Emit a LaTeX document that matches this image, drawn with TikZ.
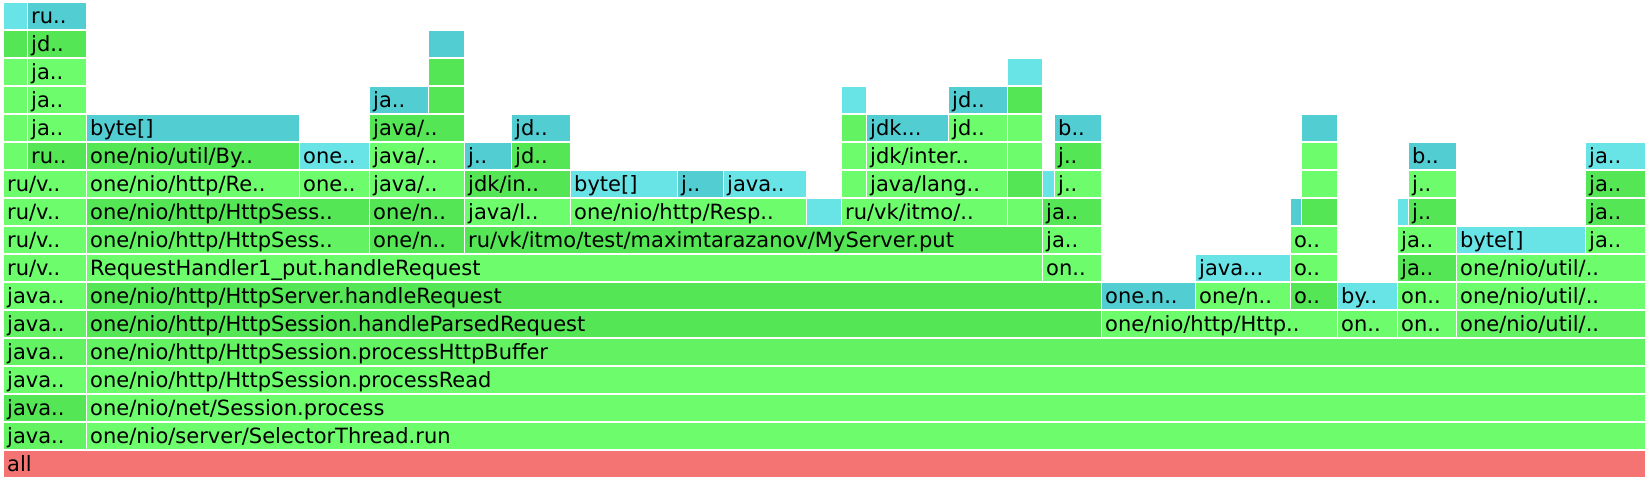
\documentclass[tikz,border=0pt]{standalone}
\usepackage{fontspec}
\setmainfont{DejaVu Sans}
\definecolor{gL}{RGB}{108,252,108}
\definecolor{gM}{RGB}{98,242,98}
\definecolor{gD}{RGB}{84,230,84}
\definecolor{cL}{RGB}{104,228,230}
\definecolor{cD}{RGB}{82,206,210}
\definecolor{allc}{RGB}{244,116,116}
\newcommand\fr[6]{%
  \pgfmathsetmacro\frtw{#3-#2-7}%
  \node[frm, fill=#5, text width=\frtw pt] (#1) at ({#2},{451-28*#4}) {#6};}
\begin{document}
\begin{tikzpicture}[x=1pt,y=-1pt,
  frm/.style={draw=none, anchor=north west, inner xsep=3pt, inner ysep=0pt,
    minimum height=26pt, text height=17pt, text depth=2pt, align=left,
    font=\fontsize{21}{24}\selectfont, text=black}]
\fill[white] (0,0) rectangle (1649,480);
% row 0
\fr{all}{4}{1646}{0}{allc}{all}
% row 1
\fr{r1a}{4}{87}{1}{gM}{java..}
\fr{r1b}{87}{1646}{1}{gL}{one/nio/server/SelectorThread.run}
% row 2
\fr{r2a}{4}{87}{2}{gD}{java..}
\fr{r2b}{87}{1646}{2}{gL}{one/nio/net/Session.process}
% row 3
\fr{r3a}{4}{87}{3}{gL}{java..}
\fr{r3b}{87}{1646}{3}{gL}{one/nio/http/HttpSession.processRead}
% row 4
\fr{r4a}{4}{87}{4}{gM}{java..}
\fr{r4b}{87}{1646}{4}{gM}{one/nio/http/HttpSession.processHttpBuffer}
% row 5
\fr{r5a}{4}{87}{5}{gM}{java..}
\fr{r5b}{87}{1102}{5}{gD}{one/nio/http/HttpSession.handleParsedRequest}
\fr{r5c}{1102}{1338}{5}{gL}{one/nio/http/Http..}
\fr{r5d}{1338}{1398}{5}{gL}{on..}
\fr{r5e}{1398}{1457}{5}{gL}{on..}
\fr{r5f}{1457}{1646}{5}{gM}{one/nio/util/..}
% row 6
\fr{r6a}{4}{87}{6}{gL}{java..}
\fr{r6b}{87}{1102}{6}{gD}{one/nio/http/HttpServer.handleRequest}
\fr{r6c}{1102}{1196}{6}{cD}{one.n..}
\fr{r6d}{1196}{1291}{6}{gL}{one/n..}
\fr{r6e}{1291}{1338}{6}{gD}{o..}
\fr{r6f}{1338}{1398}{6}{cL}{by..}
\fr{r6g}{1398}{1457}{6}{gL}{on..}
\fr{r6h}{1457}{1646}{6}{gL}{one/nio/util/..}
% row 7
\fr{r7a}{4}{87}{7}{gL}{ru/v..}
\fr{r7b}{87}{1043}{7}{gL}{RequestHandler1\_put.handleRequest}
\fr{r7c}{1043}{1102}{7}{gL}{on..}
\fr{r7d}{1196}{1291}{7}{cL}{java...}
\fr{r7e}{1291}{1338}{7}{gL}{o..}
\fr{r7f}{1398}{1457}{7}{gD}{ja..}
\fr{r7g}{1457}{1646}{7}{gL}{one/nio/util/..}
% row 8
\fr{r8a}{4}{87}{8}{gL}{ru/v..}
\fr{r8b}{87}{370}{8}{gM}{one/nio/http/HttpSess..}
\fr{r8c}{370}{465}{8}{gD}{one/n..}
\fr{r8d}{465}{1043}{8}{gD}{ru/vk/itmo/test/maximtarazanov/MyServer.put}
\fr{r8e}{1043}{1102}{8}{gL}{ja..}
\fr{r8f}{1291}{1338}{8}{gL}{o..}
\fr{r8g}{1398}{1457}{8}{gL}{ja..}
\fr{r8h}{1457}{1586}{8}{cL}{byte[]}
\fr{r8i}{1586}{1646}{8}{gL}{ja..}
% row 9
\fr{r9a}{4}{87}{9}{gL}{ru/v..}
\fr{r9b}{87}{370}{9}{gD}{one/nio/http/HttpSess..}
\fr{r9c}{370}{465}{9}{gD}{one/n..}
\fr{r9d}{465}{571}{9}{gL}{java/l..}
\fr{r9e}{571}{807}{9}{gL}{one/nio/http/Resp..}
\fr{r9f}{807}{842}{9}{cL}{}
\fr{r9g}{842}{1008}{9}{gL}{ru/vk/itmo/..}
\fr{r9h}{1008}{1043}{9}{gL}{}
\fr{r9i}{1043}{1102}{9}{gD}{ja..}
\fr{r9j}{1291}{1302}{9}{cD}{}
\fr{r9k}{1302}{1338}{9}{gD}{}
\fr{r9l}{1398}{1409}{9}{cL}{}
\fr{r9m}{1409}{1457}{9}{gD}{j..}
\fr{r9n}{1586}{1646}{9}{gD}{ja..}
% row 10
\fr{r10a}{4}{87}{10}{gL}{ru/v..}
\fr{r10b}{87}{300}{10}{gL}{one/nio/http/Re..}
\fr{r10c}{300}{370}{10}{gL}{one..}
\fr{r10d}{370}{465}{10}{gL}{java/..}
\fr{r10e}{465}{571}{10}{gD}{jdk/in..}
\fr{r10f}{571}{678}{10}{cL}{byte[]}
\fr{r10g}{678}{724}{10}{cD}{j..}
\fr{r10h}{724}{807}{10}{cL}{java..}
\fr{r10i}{842}{867}{10}{gL}{}
\fr{r10j}{867}{1008}{10}{gL}{java/lang..}
\fr{r10k}{1008}{1043}{10}{gD}{}
\fr{r10l}{1043}{1055}{10}{cL}{}
\fr{r10m}{1055}{1102}{10}{gL}{j..}
\fr{r10n}{1302}{1338}{10}{gL}{}
\fr{r10o}{1409}{1457}{10}{gL}{j..}
\fr{r10p}{1586}{1646}{10}{gD}{ja..}
% row 11
\fr{r11a}{4}{28}{11}{gL}{}
\fr{r11b}{28}{87}{11}{gD}{ru..}
\fr{r11c}{87}{300}{11}{gD}{one/nio/util/By..}
\fr{r11d}{300}{370}{11}{cL}{one..}
\fr{r11e}{370}{465}{11}{gL}{java/..}
\fr{r11f}{465}{512}{11}{cD}{j..}
\fr{r11g}{512}{571}{11}{gD}{jd..}
\fr{r11h}{842}{867}{11}{gL}{}
\fr{r11i}{867}{1008}{11}{gL}{jdk/inter..}
\fr{r11j}{1008}{1043}{11}{gL}{}
\fr{r11k}{1055}{1102}{11}{gD}{j..}
\fr{r11l}{1302}{1338}{11}{gL}{}
\fr{r11m}{1409}{1457}{11}{cD}{b..}
\fr{r11n}{1586}{1646}{11}{cL}{ja..}
% row 12
\fr{r12a}{4}{28}{12}{gL}{}
\fr{r12b}{28}{87}{12}{gL}{ja..}
\fr{r12c}{87}{300}{12}{cD}{byte[]}
\fr{r12d}{370}{465}{12}{gD}{java/..}
\fr{r12e}{512}{571}{12}{cD}{jd..}
\fr{r12f}{842}{867}{12}{gM}{}
\fr{r12g}{867}{949}{12}{cD}{jdk...}
\fr{r12h}{949}{1008}{12}{gL}{jd..}
\fr{r12i}{1008}{1043}{12}{gL}{}
\fr{r12j}{1055}{1102}{12}{cD}{b..}
\fr{r12k}{1302}{1338}{12}{cD}{}
% row 13
\fr{r13a}{4}{28}{13}{gL}{}
\fr{r13b}{28}{87}{13}{gL}{ja..}
\fr{r13c}{370}{429}{13}{cD}{ja..}
\fr{r13d}{429}{465}{13}{gD}{}
\fr{r13e}{842}{867}{13}{cL}{}
\fr{r13f}{949}{1008}{13}{cD}{jd..}
\fr{r13g}{1008}{1043}{13}{gD}{}
% row 14
\fr{r14a}{4}{28}{14}{gL}{}
\fr{r14b}{28}{87}{14}{gL}{ja..}
\fr{r14c}{429}{465}{14}{gD}{}
\fr{r14d}{1008}{1043}{14}{cL}{}
% row 15
\fr{r15a}{4}{28}{15}{gD}{}
\fr{r15b}{28}{87}{15}{gD}{jd..}
\fr{r15c}{429}{465}{15}{cD}{}
% row 16
\fr{r16a}{4}{28}{16}{cL}{}
\fr{r16b}{28}{87}{16}{cD}{ru..}
\end{tikzpicture}
\end{document}
